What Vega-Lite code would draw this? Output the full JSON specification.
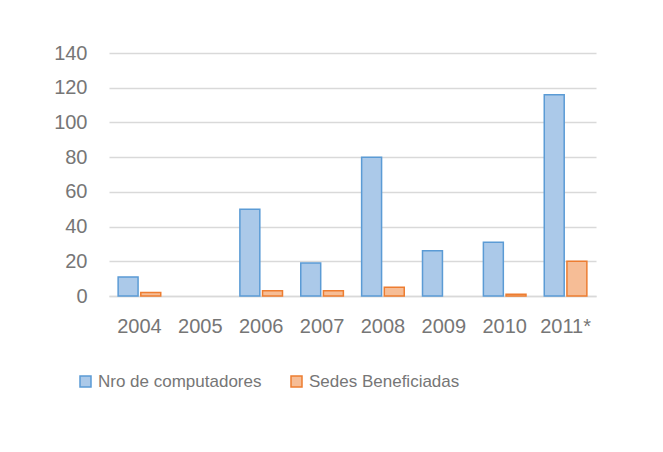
{
  "$schema": "https://vega.github.io/schema/vega-lite/v6.json",
  "width": 487,
  "height": 243,
  "autosize": "none",
  "padding": {"left": 109, "top": 53, "right": 67, "bottom": 156},
  "background": "white",
  "config": {
    "view": {"stroke": null},
    "font": "Liberation Sans"
  },
  "data": {
    "values": [
      {"year": "2004", "series": "Nro de computadores", "value": 11},
      {"year": "2004", "series": "Sedes Beneficiadas", "value": 2},
      {"year": "2005", "series": "Nro de computadores", "value": null},
      {"year": "2005", "series": "Sedes Beneficiadas", "value": null},
      {"year": "2006", "series": "Nro de computadores", "value": 50},
      {"year": "2006", "series": "Sedes Beneficiadas", "value": 3},
      {"year": "2007", "series": "Nro de computadores", "value": 19},
      {"year": "2007", "series": "Sedes Beneficiadas", "value": 3},
      {"year": "2008", "series": "Nro de computadores", "value": 80},
      {"year": "2008", "series": "Sedes Beneficiadas", "value": 5},
      {"year": "2009", "series": "Nro de computadores", "value": 26},
      {"year": "2009", "series": "Sedes Beneficiadas", "value": null},
      {"year": "2010", "series": "Nro de computadores", "value": 31},
      {"year": "2010", "series": "Sedes Beneficiadas", "value": 1},
      {"year": "2011*", "series": "Nro de computadores", "value": 116},
      {"year": "2011*", "series": "Sedes Beneficiadas", "value": 20}
    ]
  },
  "mark": {"type": "bar", "strokeWidth": 1.5},
  "encoding": {
    "x": {
      "field": "year",
      "type": "nominal",
      "sort": null,
      "scale": {
        "domain": ["2004", "2005", "2006", "2007", "2008", "2009", "2010", "2011*"],
        "paddingInner": 0.3,
        "paddingOuter": 0.15
      },
      "axis": {
        "title": null,
        "labelAngle": 0,
        "labelFontSize": 20,
        "labelColor": "#767676",
        "labelPadding": 20,
        "ticks": false,
        "domain": true,
        "domainColor": "#d9d9d9",
        "domainWidth": 1.5
      }
    },
    "xOffset": {
      "field": "series",
      "type": "nominal",
      "scale": {"paddingInner": 0.12}
    },
    "y": {
      "field": "value",
      "type": "quantitative",
      "scale": {"domain": [0, 140], "nice": false},
      "axis": {
        "title": null,
        "values": [0, 20, 40, 60, 80, 100, 120, 140],
        "labelFontSize": 20,
        "labelColor": "#767676",
        "labelPadding": 22,
        "ticks": false,
        "domain": false,
        "gridColor": "#d9d9d9",
        "gridWidth": 1.5
      }
    },
    "fill": {
      "field": "series",
      "type": "nominal",
      "scale": {
        "domain": ["Nro de computadores", "Sedes Beneficiadas"],
        "range": ["#abc9e9", "#f6bd96"]
      },
      "legend": {
        "title": null,
        "orient": "none",
        "legendX": -32,
        "legendY": 320,
        "direction": "horizontal",
        "columns": 2,
        "columnPadding": 26,
        "symbolType": "square",
        "symbolSize": 121,
        "symbolStrokeWidth": 1.5,
        "labelFontSize": 17,
        "labelLimit": 400,
        "labelColor": "#767676",
        "labelOffset": 4,
        "padding": 0
      }
    },
    "stroke": {
      "field": "series",
      "type": "nominal",
      "scale": {
        "domain": ["Nro de computadores", "Sedes Beneficiadas"],
        "range": ["#5b9bd5", "#ed7d31"]
      },
      "legend": null
    }
  }
}
